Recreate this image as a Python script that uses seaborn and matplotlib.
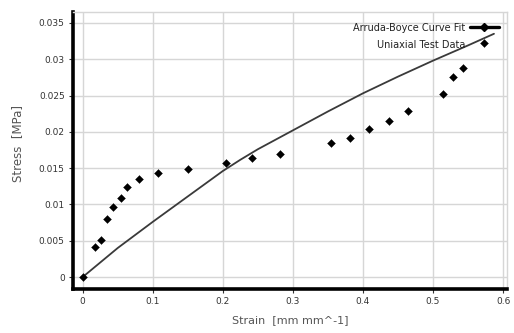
import numpy as np
import pandas as pd
import matplotlib
matplotlib.use("Agg")
import matplotlib.pyplot as plt
import seaborn as sns
from matplotlib.lines import Line2D
from matplotlib.legend_handler import HandlerLine2D

# Uniaxial test measurements
test_strain = [0.0, 0.0171, 0.0261, 0.0351, 0.0437, 0.0542, 0.0632, 0.0807,
               0.107, 0.151, 0.2044, 0.241, 0.281, 0.354, 0.381, 0.408,
               0.437, 0.465, 0.514, 0.529, 0.5435, 0.573]
test_stress = [0.0, 0.00417, 0.00506, 0.00803, 0.0096, 0.01088, 0.01244, 0.01346,
               0.01433, 0.01488, 0.01574, 0.01635, 0.0169, 0.01846, 0.01919, 0.02034,
               0.02149, 0.02291, 0.02517, 0.02759, 0.02875, 0.03219]

# Arruda-Boyce fitted curve
fit_strain = [0.0, 0.05, 0.1, 0.125, 0.15, 0.175, 0.2, 0.225, 0.25, 0.275, 0.3,
              0.35, 0.4, 0.45, 0.5, 0.55, 0.587]
fit_stress = [0.0, 0.0040, 0.0076, 0.00935, 0.0111, 0.01285, 0.0146, 0.01615,
              0.0176, 0.0189, 0.0202, 0.0228, 0.0253, 0.0276, 0.0298, 0.0319, 0.0335]

x_ticks = [0, 0.1, 0.2, 0.3, 0.4, 0.5, 0.6]
y_ticks = [0, 0.005, 0.01, 0.015, 0.02, 0.025, 0.03, 0.035]

sns.set_theme(style="whitegrid")
plt.rcParams["font.family"] = ["DejaVu Sans"]

fig = plt.figure(figsize=(5.14, 3.33), dpi=100)
ax = fig.add_axes([0.142, 0.132, 0.844, 0.832])

fit_df = pd.DataFrame({"strain": fit_strain, "stress": fit_stress})
test_df = pd.DataFrame({"strain": test_strain, "stress": test_stress})

sns.lineplot(data=fit_df, x="strain", y="stress", ax=ax, color="#3a3a3a",
             linewidth=1.3, sort=True, estimator=None, legend=False)
sns.scatterplot(data=test_df, x="strain", y="stress", ax=ax, marker="D",
                color="black", s=16, edgecolor="black", linewidth=0.3,
                legend=False, zorder=5)

ax.set_xlim(-0.0138, 0.6053)
ax.set_ylim(-0.00165, 0.0365)
ax.set_xticks(x_ticks)
ax.set_yticks(y_ticks)
ax.set_xticklabels([f"{v:g}" for v in x_ticks])
ax.set_yticklabels([f"{v:g}" for v in y_ticks])

ax.grid(True, color="#d6d6d6", linewidth=1.0)
ax.set_axisbelow(True)
ax.tick_params(axis="both", which="both", labelsize=6.5, colors="#333333",
               length=3, width=0.8, direction="out", pad=3,
               left=True, bottom=True)

for side in ("left", "bottom"):
    ax.spines[side].set_color("black")
    ax.spines[side].set_linewidth(2.6)
for side in ("top", "right"):
    ax.spines[side].set_color("#d6d6d6")
    ax.spines[side].set_linewidth(1.0)

ax.set_xlabel("Strain  [mm mm^-1]", fontsize=8, color="#555555", labelpad=6)
ax.set_ylabel("Stress  [MPa]", fontsize=8.5, color="#555555")
ax.yaxis.set_label_coords(-0.113, 0.527)


class EndMarkerHandler(HandlerLine2D):
    """Draws the legend line with its marker at the right end."""

    def get_xdata(self, legend, xdescent, ydescent, width, height, fontsize):
        xdata, _ = super().get_xdata(legend, xdescent, ydescent, width, height, fontsize)
        return xdata, np.array([-xdescent + width])


fit_handle = Line2D([], [], color="black", linewidth=2.4, marker="D",
                    markersize=3.6, markerfacecolor="black")
test_handle = Line2D([], [], color="none")

leg = ax.legend([fit_handle, test_handle],
                ["Arruda-Boyce Curve Fit", "Uniaxial Test Data"],
                handler_map={fit_handle: EndMarkerHandler()},
                loc="upper right", bbox_to_anchor=(0.981, 0.962),
                frameon=False, markerfirst=False, fontsize=7,
                handlelength=2.9, handletextpad=0.5, labelspacing=0.72,
                borderpad=0, borderaxespad=0)
for t in leg.get_texts():
    t.set_color("#222222")

fig.savefig("out.png", dpi=100)
